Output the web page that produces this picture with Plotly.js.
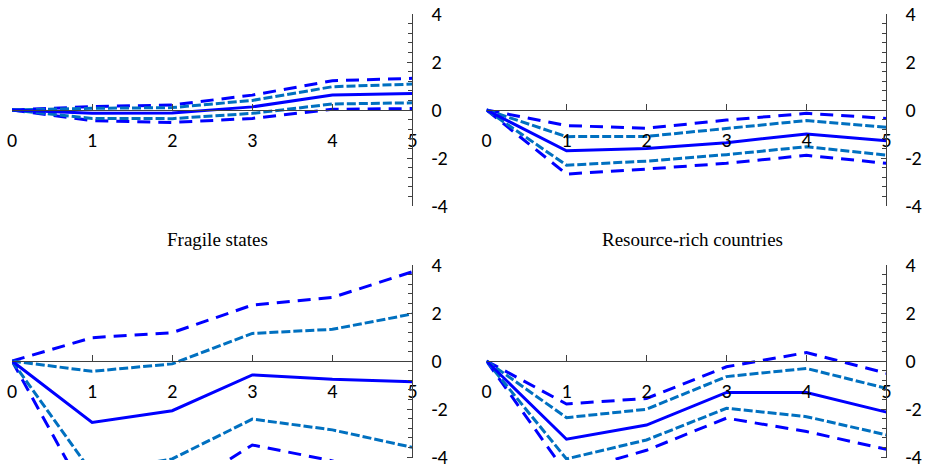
<!DOCTYPE html>
<html>
<head>
<meta charset="utf-8">
<script src="https://cdn.plot.ly/plotly-3.0.1.min.js"></script>
<style>html,body{margin:0;padding:0;background:#fff;}#chart{width:925px;height:470px;}</style>
</head>
<body>
<div id="chart"></div>
<script>
// ---- data ----
var horizon = [0, 1, 2, 3, 4, 5];
var xTickLabels = ['0', '1', '2', '3', '4', '5'];
var yTickVals = [-4, -2, 0, 2, 4];
var yTickLabels = ['-4', '-2', '0', '2', '4'];
var panelTitles = ['', '', 'Fragile states', 'Resource-rich countries'];

// top-left panel
var tlEstimate = [0, -0.14, -0.13, 0.13, 0.62, 0.69];
var tlInnerUp  = [0, 0.07, 0.10, 0.40, 0.97, 1.08];
var tlInnerLo  = [0, -0.35, -0.36, -0.14, 0.25, 0.30];
var tlOuterUp  = [0, 0.14, 0.21, 0.62, 1.22, 1.32];
var tlOuterLo  = [0, -0.44, -0.52, -0.35, 0.03, 0.06];

// top-right panel
var trEstimate = [0, -1.70, -1.60, -1.36, -1.00, -1.28];
var trInnerUp  = [0, -1.11, -1.10, -0.76, -0.44, -0.72];
var trInnerLo  = [0, -2.30, -2.13, -1.86, -1.53, -1.88];
var trOuterUp  = [0, -0.65, -0.76, -0.42, -0.14, -0.35];
var trOuterLo  = [0, -2.67, -2.46, -2.22, -1.89, -2.22];

// bottom-left panel: Fragile states
var blEstimate = [0, -2.56, -2.07, -0.58, -0.76, -0.86];
var blInnerUp  = [0, -0.43, -0.12, 1.15, 1.32, 1.96];
var blInnerLo  = [0, -4.66, -4.08, -2.42, -2.87, -3.60];
var blOuterUp  = [0, 0.97, 1.18, 2.33, 2.65, 3.72];
var blOuterLo  = [0, -6.05, -5.60, -3.50, -4.16, -5.44];

// bottom-right panel: Resource-rich countries
var brEstimate = [0, -3.26, -2.67, -1.31, -1.31, -2.13];
var brInnerUp  = [0, -2.36, -2.01, -0.65, -0.31, -1.14];
var brInnerLo  = [0, -4.08, -3.29, -1.97, -2.32, -3.08];
var brOuterUp  = [0, -1.79, -1.56, -0.24, 0.35, -0.51];
var brOuterLo  = [0, -4.68, -3.72, -2.38, -2.94, -3.68];

// ---- layout geometry (pixels) ----
var W = 925, H = 470;
var colX = [[12, 412.5], [486.5, 886.5]];        // pixel of x=0 and x=5
var rowY = [{top: 14, bottom: 206, range: [-4, 4], zero: 110},
            {top: 265, bottom: 460, range: [-4.125, 4], zero: 361}];

var solidColor = '#0000FF';
var outerColor = '#0000FF';
var innerColor = '#0070C0';
var axisColor = '#404040';
var tickFont = {family: 'Carlito, Lato, sans-serif', size: 20, color: '#000'};

var minorVals = [];
for (var k = -10; k <= 10; k++) {
  if (k % 5 !== 0) minorVals.push(Math.round(k * 0.4 * 10) / 10);
}

var panels = [
  [tlEstimate, tlInnerUp, tlInnerLo, tlOuterUp, tlOuterLo],
  [trEstimate, trInnerUp, trInnerLo, trOuterUp, trOuterLo],
  [blEstimate, blInnerUp, blInnerLo, blOuterUp, blOuterLo],
  [brEstimate, brInnerUp, brInnerLo, brOuterUp, brOuterLo]
];

var traces = [];
var layout = {
  width: W, height: H,
  margin: {l: 0, r: 0, t: 0, b: 0},
  paper_bgcolor: '#fff', plot_bgcolor: 'rgba(0,0,0,0)',
  showlegend: false,
  shapes: [], annotations: []
};

panels.forEach(function (p, i) {
  var n = i + 1;
  var xa = 'x' + (n === 1 ? '' : n), ya = 'y' + (n === 1 ? '' : n);
  var col = colX[i % 2], row = rowY[Math.floor(i / 2)];
  var styles = [
    {data: p[3], color: outerColor, dash: '13px,8px'},
    {data: p[4], color: outerColor, dash: '13px,8px'},
    {data: p[1], color: innerColor, dash: '9px,3px'},
    {data: p[2], color: innerColor, dash: '9px,3px'},
    {data: p[0], color: solidColor, dash: 'solid'}
  ];
  styles.forEach(function (s) {
    traces.push({
      x: horizon, y: s.data, xaxis: xa, yaxis: ya,
      type: 'scatter', mode: 'lines', hoverinfo: 'skip',
      line: {color: s.color, width: 3, dash: s.dash}
    });
  });
  var xKey = 'xaxis' + (n === 1 ? '' : n), yKey = 'yaxis' + (n === 1 ? '' : n);
  layout[xKey] = {
    domain: [col[0] / W, col[1] / W],
    range: [0, 5],
    anchor: 'free',
    position: 1 - row.zero / H,
    showline: true, linecolor: axisColor, linewidth: 1,
    ticks: 'inside', ticklen: 6, tickcolor: axisColor, tickwidth: 1,
    tickmode: 'array', tickvals: horizon, ticktext: xTickLabels,
    tickfont: tickFont, ticklabelstandoff: 12,
    showgrid: false, zeroline: false, fixedrange: true
  };
  layout[yKey] = {
    domain: [1 - row.bottom / H, 1 - row.top / H],
    range: row.range,
    anchor: xa, side: 'right',
    showline: false,
    ticks: 'inside', ticklen: 6, tickcolor: axisColor, tickwidth: 1,
    tickmode: 'array', tickvals: yTickVals, ticktext: yTickLabels,
    minor: {tickmode: 'array', tickvals: minorVals, ticks: 'inside', ticklen: 5, tickcolor: axisColor, tickwidth: 1},
    tickfont: tickFont, ticklabelstandoff: 18,
    showgrid: false, zeroline: false, fixedrange: true
  };
  layout.shapes.push({
    type: 'line', xref: xa + ' domain', yref: ya,
    x0: 1, x1: 1, y0: -4, y1: 4,
    line: {color: axisColor, width: 1}, layer: 'above'
  });
  if (panelTitles[i]) {
    layout.annotations.push({
      text: panelTitles[i], xref: 'paper', yref: 'paper',
      x: (i % 2 === 0 ? 217 : 692) / W, y: 1 - 240 / H,
      xanchor: 'center', yanchor: 'middle', showarrow: false,
      font: {family: 'Liberation Serif, Times New Roman, serif', size: 19, color: '#000'}
    });
  }
});

Plotly.newPlot('chart', traces, layout, {staticPlot: true, displayModeBar: false});
</script>
</body>
</html>
